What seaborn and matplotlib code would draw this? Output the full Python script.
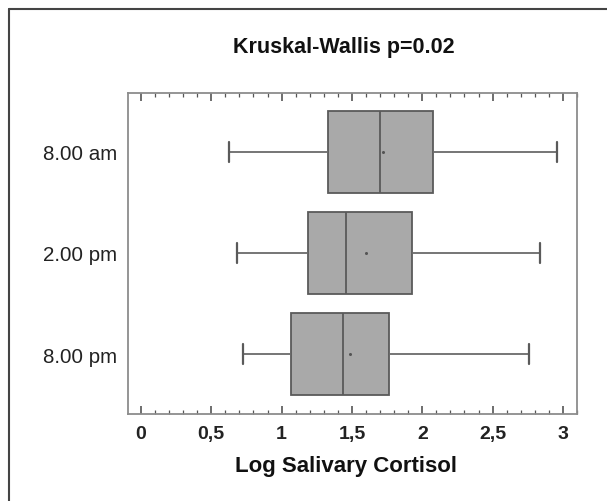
import numpy as np
import pandas as pd
import matplotlib
matplotlib.use("Agg")
import matplotlib.pyplot as plt
import seaborn as sns
from matplotlib.ticker import MultipleLocator, FuncFormatter
from matplotlib.lines import Line2D

# five-number summaries (min, Q1, median, Q3, max)
times = ["8.00 am", "2.00 pm", "8.00 pm"]
lo_whisk = [0.625, 0.68, 0.725]
q1 = [1.33, 1.19, 1.07]
median = [1.70, 1.46, 1.435]
q3 = [2.075, 1.93, 1.76]
hi_whisk = [2.96, 2.84, 2.76]
means = [1.72, 1.60, 1.485]

rows = []
for i, t in enumerate(times):
    for v in (lo_whisk[i], q1[i], median[i], q3[i], hi_whisk[i]):
        rows.append({"time": t, "cortisol": v})
df = pd.DataFrame(rows)
df_mean = pd.DataFrame({"time": times, "cortisol": means})

sns.set_style("white")
plt.rcParams["font.family"] = ["Liberation Sans", "DejaVu Sans"]

fig = plt.figure(figsize=(6.07, 5.02), dpi=100)
ax = fig.add_axes([128 / 607, 1 - 415 / 502, 449 / 607, 321 / 502])

sns.boxplot(data=df, x="cortisol", y="time", order=times, whis=(0, 100),
            width=0.81, color="#a9a9a9", saturation=1, linewidth=1.3,
            linecolor="#5a5a5a", capwidths=0.2, ax=ax,
            whiskerprops={"color": "#6a6a6a"}, capprops={"color": "#5a5a5a", "linewidth": 1.6})
sns.stripplot(data=df_mean, x="cortisol", y="time", order=times, jitter=False,
              size=2.2, color="#555555", ax=ax)

ax.set_xlim(-0.092, 3.1)
ax.set_ylim(2.59, -0.58)
ax.set_xlabel("")
ax.set_ylabel("")

ax.xaxis.set_major_locator(MultipleLocator(0.5))
ax.xaxis.set_minor_locator(MultipleLocator(0.1))
ax.xaxis.set_major_formatter(FuncFormatter(lambda v, p: f"{v:g}".replace(".", ",")))
ax.tick_params(axis="x", which="both", direction="in", top=True, bottom=True,
               color="#555555", labelsize=14, labelcolor="#222222", pad=8)
ax.tick_params(axis="x", which="major", length=6, width=1.2)
ax.tick_params(axis="x", which="minor", length=3, width=0.9)
ax.tick_params(axis="y", length=0, labelsize=14.8, labelcolor="#222222", pad=8)
for lbl in ax.get_xticklabels():
    lbl.set_fontweight("bold")

for side in ["left", "right", "top", "bottom"]:
    ax.spines[side].set_visible(True)
    ax.spines[side].set_color("#8c8c8c")
    ax.spines[side].set_linewidth(1.3)

fig.text(344 / 607, 1 - 48 / 502, "Kruskal-Wallis p=0.02", ha="center", va="center",
         fontsize=15.5, fontweight="bold", color="#111111")
fig.text(346 / 607, 1 - 467 / 502, "Log Salivary Cortisol", ha="center", va="center",
         fontsize=16, fontweight="bold", color="#111111")

# outer frame (only left and top edges visible)
fig.add_artist(Line2D([9 / 607, 9 / 607], [0, 1 - 10 / 502], transform=fig.transFigure,
                      color="#444444", linewidth=1.5))
fig.add_artist(Line2D([9 / 607, 1], [1 - 10 / 502, 1 - 10 / 502], transform=fig.transFigure,
                      color="#444444", linewidth=1.5))

fig.savefig("out.png", dpi=100)
